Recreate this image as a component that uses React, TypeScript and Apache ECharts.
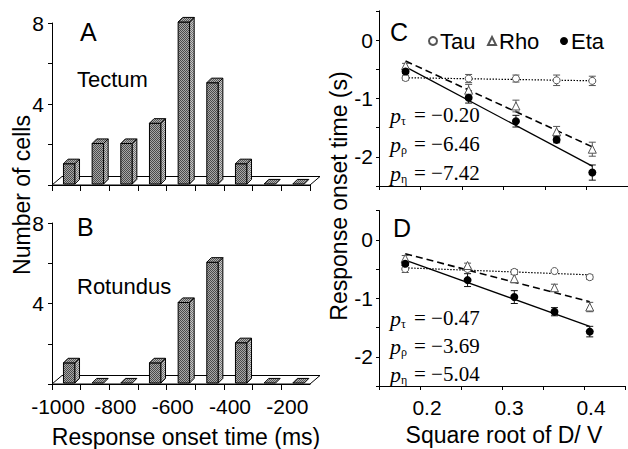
import React, { useEffect, useRef } from 'react';
import * as echarts from 'echarts';

// ---------- Data ----------
const binStarts = [-1000, -900, -800, -700, -600, -500, -400, -300, -200];
const tectumCounts = [1, 2, 2, 3, 8, 5, 1, 0, 0];
const rotundusCounts = [1, 0, 0, 1, 4, 6, 2, 0, 0];

const sqrtDV = [0.182, 0.258, 0.315, 0.364, 0.407];

// Panel C (tectum)
const cTau = [-0.65, -0.66, -0.66, -0.69, -0.7];
const cTauErr = [0.04, 0.07, 0.06, 0.09, 0.08];
const cRho = [-0.44, -0.86, -1.13, -1.57, -1.87];
const cRhoErr = [0.04, 0.1, 0.1, 0.09, 0.12];
const cEta = [-0.54, -0.99, -1.39, -1.71, -2.27];
const cEtaErr = [0.03, 0.09, 0.1, 0.05, 0.13];
const fitX = [0.182, 0.407];
const cTauFit = [-0.646, -0.698];
const cRhoFit = [-0.36, -1.83];
const cEtaFit = [-0.46, -2.16];

// Panel D (rotundus)
const dTau = [-0.5, -0.5, -0.55, -0.535, -0.64];
const dTauErr = [0.06, 0.03, 0.04, 0.02, 0.04];
const dRho = [-0.32, -0.44, -0.665, -0.82, -1.15];
const dRhoErr = [0.05, 0.04, 0.07, 0.06, 0.08];
const dEta = [-0.41, -0.69, -0.98, -1.23, -1.57];
const dEtaErr = [0.03, 0.11, 0.11, 0.07, 0.09];
const dTauFit = [-0.48, -0.6];
const dRhoFit = [-0.24, -1.06];
const dEtaFit = [-0.35, -1.48];

const histXTicks = { min: -1000, max: -100, interval: 100 };
const histYTicks = { min: 0, max: 8, interval: 2 };
const regYTicks = { min: -2.5, max: 0.5, interval: 0.5 };
const regXTicks = { min: 0.15, max: 0.45, interval: 0.05 };

const legendNames = ['Tau', 'Rho', 'Eta'];

const pLabelsC = [
  { sub: 'τ', val: '= −0.20' },
  { sub: 'ρ', val: '= −6.46' },
  { sub: 'η', val: '= −7.42' },
];
const pLabelsD = [
  { sub: 'τ', val: '= −0.47' },
  { sub: 'ρ', val: '= −3.69' },
  { sub: 'η', val: '= −5.04' },
];

const SANS = '"Liberation Sans", Arial, sans-serif';
const SERIF = '"Liberation Serif", "Times New Roman", serif';

function makePattern(dark: string, light: string): any {
  const c = document.createElement('canvas');
  c.width = 2;
  c.height = 2;
  const ctx = c.getContext('2d')!;
  ctx.fillStyle = light;
  ctx.fillRect(0, 0, 2, 2);
  ctx.fillStyle = dark;
  ctx.fillRect(0, 0, 1, 1);
  ctx.fillRect(1, 1, 1, 1);
  return { image: c, repeat: 'repeat' };
}

export default function App() {
  const ref = useRef<HTMLDivElement>(null);

  useEffect(() => {
    if (!ref.current) return;
    const chart = echarts.init(ref.current, undefined, { renderer: 'svg' });
    const frontFill = makePattern('#4a4a4a', '#a8a8a8');
    const sideFill = makePattern('#707070', '#c8c8c8');
    const topFill = makePattern('#555555', '#b0b0b0');

    const floorRender = (_params: any, api: any) => {
      const a = api.coord([api.value(0), 0]);
      const b = api.coord([api.value(1), 0]);
      const dx = 10;
      const dy = -8.5;
      return {
        type: 'polygon',
        shape: { points: [a, b, [b[0] + dx, b[1] + dy], [a[0] + dx, a[1] + dy]] },
        style: { fill: '#fff', stroke: '#000', lineWidth: 1 },
      };
    };

    const barRender = (_params: any, api: any) => {
      const start = api.value(0);
      const v = api.value(1);
      const p0 = api.coord([start, 0]);
      const p1 = api.coord([start, v]);
      const binW = api.size([100, 0])[0];
      const fx = p0[0] + binW * 0.4;
      const fw = binW * 0.4;
      const d = binW * 0.16;
      const yb = p0[1] - 1;
      const yt = p1[1] - 1;
      const children: any[] = [];
      if (v > 0) {
        children.push({ type: 'rect', shape: { x: fx, y: yt, width: fw, height: yb - yt }, style: { fill: frontFill, stroke: '#000', lineWidth: 1 } });
        children.push({
          type: 'polygon',
          shape: { points: [[fx + fw, yb], [fx + fw + d, yb - d], [fx + fw + d, yt - d], [fx + fw, yt]] },
          style: { fill: sideFill, stroke: '#000', lineWidth: 1 },
        });
      }
      children.push({
        type: 'polygon',
        shape: { points: [[fx, yt], [fx + d, yt - d], [fx + fw + d, yt - d], [fx + fw, yt]] },
        style: { fill: topFill, stroke: '#000', lineWidth: 1 },
      });
      return { type: 'group', children };
    };

    const errRender = (color: string) => (_params: any, api: any) => {
      const x = api.value(0);
      const m = api.value(1);
      const e = api.value(2);
      const t = api.coord([x, m + e]);
      const b = api.coord([x, m - e]);
      const cap = 3.5;
      const st = { stroke: color, lineWidth: 1 };
      return {
        type: 'group',
        children: [
          { type: 'line', shape: { x1: t[0], y1: t[1], x2: b[0], y2: b[1] }, style: st },
          { type: 'line', shape: { x1: t[0] - cap, y1: t[1], x2: t[0] + cap, y2: t[1] }, style: st },
          { type: 'line', shape: { x1: b[0] - cap, y1: b[1], x2: b[0] + cap, y2: b[1] }, style: st },
        ],
      };
    };

    const axisLineStyle = { show: true, onZero: false, lineStyle: { color: '#000', width: 1 } };

    const histX = (idx: number, showLabels: boolean) => ({
      type: 'value',
      gridIndex: idx,
      ...histXTicks,
      axisLine: axisLineStyle,
      axisTick: { show: true, length: 6, lineStyle: { color: '#000' } },
      splitLine: { show: false },
      axisLabel: {
        show: showLabels,
        margin: 12,
        fontSize: 21,
        color: '#000',
        fontFamily: SANS,
        padding: [0, 0, 0, 12],
        showMaxLabel: false,
        formatter: (v: number) => (v <= -200 && (v + 1000) % 200 === 0 ? String(v) : ''),
      },
      name: showLabels ? 'Response onset time (ms)' : '',
      nameLocation: 'middle',
      nameGap: 41,
      nameTextStyle: { fontSize: 23, color: '#000', fontFamily: SANS, padding: [0, 0, 0, 10] },
    });

    const histY = (idx: number) => ({
      type: 'value',
      gridIndex: idx,
      ...histYTicks,
      axisLine: axisLineStyle,
      axisTick: { show: true, length: 4, lineStyle: { color: '#000' } },
      splitLine: { show: false },
      axisLabel: {
        margin: 8,
        fontSize: 21,
        color: '#000',
        fontFamily: SANS,
        formatter: (v: number) => (v > 0 && v % 4 === 0 ? String(v) : ''),
      },
    });

    const regX = (idx: number, showLabels: boolean) => ({
      type: 'value',
      gridIndex: idx,
      ...regXTicks,
      axisLine: axisLineStyle,
      axisTick: { show: true, length: 4, lineStyle: { color: '#000' } },
      splitLine: { show: false },
      axisLabel: {
        show: showLabels,
        margin: 11,
        fontSize: 21,
        color: '#000',
        fontFamily: SANS,
        padding: [0, 0, 0, 14],
        formatter: (v: number) => {
          const t = Math.round(v * 100);
          return t % 10 === 0 && t >= 20 && t <= 40 ? (t / 100).toFixed(1) : '';
        },
      },
      name: showLabels ? 'Square root of D/ V' : '',
      nameLocation: 'middle',
      nameGap: 37,
      nameTextStyle: { fontSize: 23, color: '#000', fontFamily: SANS, padding: [0, 0, 0, 4] },
    });

    const regY = (idx: number) => ({
      type: 'value',
      gridIndex: idx,
      ...regYTicks,
      axisLine: axisLineStyle,
      axisTick: { show: true, length: 3, lineStyle: { color: '#000' } },
      splitLine: { show: false },
      axisLabel: {
        margin: 6,
        fontSize: 21,
        color: '#000',
        fontFamily: SANS,
        formatter: (v: number) => (Math.abs(v - Math.round(v)) < 1e-6 ? String(Math.round(v)) : ''),
      },
    });

    const regSeries = (
      idx: number,
      tau: number[], tauE: number[], rho: number[], rhoE: number[], eta: number[], etaE: number[],
      tauFit: number[], rhoFit: number[], etaFit: number[], tag: string
    ) => {
      const pairs = (ys: number[]) => sqrtDV.map((x, i) => [x, ys[i]]);
      const triples = (ys: number[], es: number[]) => sqrtDV.map((x, i) => [x, ys[i], es[i]]);
      const fit = (ys: number[]) => fitX.map((x, i) => [x, ys[i]]);
      const common = { xAxisIndex: idx, yAxisIndex: idx };
      return [
        { ...common, type: 'line', name: 'tauFit' + tag, data: fit(tauFit), symbol: 'none', lineStyle: { color: '#000', width: 1.2, type: [1.5, 1.5] }, z: 2 },
        { ...common, type: 'line', name: 'rhoFit' + tag, data: fit(rhoFit), symbol: 'none', lineStyle: { color: '#000', width: 1.6, type: [7, 4] }, z: 2 },
        { ...common, type: 'line', name: 'etaFit' + tag, data: fit(etaFit), symbol: 'none', lineStyle: { color: '#000', width: 1.3 }, z: 2 },
        { ...common, type: 'custom', name: 'tauErr' + tag, data: triples(tau, tauE), renderItem: errRender('#555'), encode: { x: 0, y: 1 }, z: 3 },
        { ...common, type: 'custom', name: 'rhoErr' + tag, data: triples(rho, rhoE), renderItem: errRender('#555'), encode: { x: 0, y: 1 }, z: 3 },
        { ...common, type: 'custom', name: 'etaErr' + tag, data: triples(eta, etaE), renderItem: errRender('#111'), encode: { x: 0, y: 1 }, z: 3 },
        { ...common, type: 'scatter', name: 'Tau', data: pairs(tau), symbol: 'circle', symbolSize: 7, itemStyle: { color: '#fff', borderColor: '#555', borderWidth: 1, opacity: 1 }, z: 4 },
        { ...common, type: 'scatter', name: 'Rho', data: pairs(rho), symbol: 'triangle', symbolSize: 8, itemStyle: { color: '#fff', borderColor: '#555', borderWidth: 1, opacity: 1 }, z: 4 },
        { ...common, type: 'scatter', name: 'Eta', data: pairs(eta), symbol: 'circle', symbolSize: 8, itemStyle: { color: '#000', opacity: 1 }, z: 5 },
      ];
    };

    const textEl = (text: string, x: number, y: number, size: number, extra: any = {}) => ({
      type: 'text',
      x,
      y,
      ...extra,
      style: {
        text,
        font: `${size}px ${SANS}`,
        fill: '#000',
        align: extra.align || 'left',
        verticalAlign: 'middle',
        textAlign: extra.align || 'left',
        textVerticalAlign: 'middle',
      },
    });

    const pTexts = (labels: { sub: string; val: string }[], ys: number[]) =>
      labels.flatMap((l, i) => [
        { type: 'text', x: 390, y: ys[i], style: { text: 'p', font: `italic 22px ${SERIF}`, fill: '#000', align: 'left', verticalAlign: 'middle', textAlign: 'left', textVerticalAlign: 'middle' } },
        { type: 'text', x: 401, y: ys[i] + 6, style: { text: l.sub, font: `12px ${SERIF}`, fill: '#000', align: 'left', verticalAlign: 'middle', textAlign: 'left', textVerticalAlign: 'middle' } },
        { type: 'text', x: 414, y: ys[i], style: { text: l.val, font: `21px ${SERIF}`, fill: '#000', align: 'left', verticalAlign: 'middle', textAlign: 'left', textVerticalAlign: 'middle' } },
      ]);

    const legendLefts = [428, 487, 560];
    const legendIcons = ['circle', 'triangle', 'circle'];

    const option: any = {
      animation: false,
      backgroundColor: '#fff',
      grid: [
        { left: 52, top: 23, width: 258, height: 162 },
        { left: 52, top: 223, width: 258, height: 161 },
        { left: 379, top: 10.8, width: 250.5, height: 175.2 },
        { left: 379, top: 210.5, width: 250.5, height: 175.5 },
      ],
      xAxis: [histX(0, false), histX(1, true), regX(2, false), regX(3, true)],
      yAxis: [histY(0), histY(1), regY(2), regY(3)],
      legend: legendNames.map((n, i) => ({
        left: legendLefts[i],
        top: 30,
        itemWidth: 8,
        itemHeight: 8,
        padding: 0,
        textStyle: { fontSize: 22, color: '#000', fontFamily: SANS, padding: [0, 0, 0, -2] },
        data: [{ name: n, icon: legendIcons[i] }],
        selectedMode: false,
      })),
      series: [
        { type: 'custom', xAxisIndex: 0, yAxisIndex: 0, data: [[-1000, -100]], renderItem: floorRender, z: 1, silent: true },
        { type: 'custom', xAxisIndex: 0, yAxisIndex: 0, data: binStarts.map((b, i) => [b, tectumCounts[i]]), renderItem: barRender, encode: { x: 0, y: 1 }, z: 2 },
        { type: 'custom', xAxisIndex: 1, yAxisIndex: 1, data: [[-1000, -100]], renderItem: floorRender, z: 1, silent: true },
        { type: 'custom', xAxisIndex: 1, yAxisIndex: 1, data: binStarts.map((b, i) => [b, rotundusCounts[i]]), renderItem: barRender, encode: { x: 0, y: 1 }, z: 2 },
        ...regSeries(2, cTau, cTauErr, cRho, cRhoErr, cEta, cEtaErr, cTauFit, cRhoFit, cEtaFit, 'C'),
        ...regSeries(3, dTau, dTauErr, dRho, dRhoErr, dEta, dEtaErr, dTauFit, dRhoFit, dEtaFit, 'D'),
      ],
      graphic: [
        textEl('A', 80, 32, 25),
        textEl('B', 77, 227, 25),
        textEl('C', 390, 32, 25),
        textEl('D', 393, 228, 25),
        textEl('Tectum', 77, 79, 22),
        textEl('Rotundus', 77, 286, 22),
        textEl('Number of cells', 22, 195, 23, { rotation: Math.PI / 2, align: 'center' }),
        textEl('Response onset time (s)', 339, 196, 23, { rotation: Math.PI / 2, align: 'center' }),
        ...pTexts(pLabelsC, [115, 144, 173]),
        ...pTexts(pLabelsD, [318, 346, 374]),
      ],
    };

    chart.setOption(option);
    return () => chart.dispose();
  }, []);

  return <div ref={ref} style={{ position: 'absolute', left: 0, top: 0, width: 628, height: 449 }} />;
}
